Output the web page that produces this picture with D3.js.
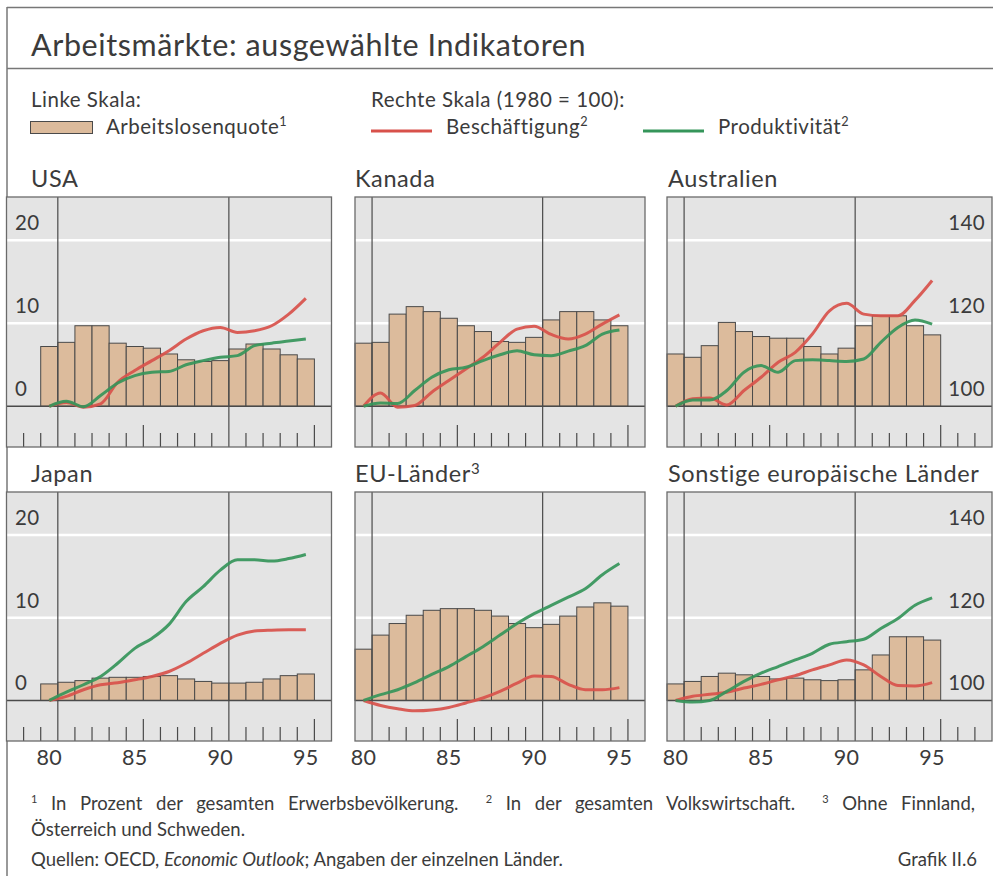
<!DOCTYPE html>
<html><head><meta charset="utf-8">
<script src="https://cdn.jsdelivr.net/npm/d3@7"></script>
<style>
body{margin:0;background:#fff}
svg{display:block}
text{font-family:Lato,"Open Sans",sans-serif;fill:#3b3b3b}
</style>
</head><body>
<svg id="c" width="993" height="876"></svg>
<script>
// ---------- data ----------
const years = d3.range(1980, 1996);
const leftTicks = [0, 10, 20];
const rightTicks = [100, 120, 140];
const xLabelYears = [1980, 1985, 1990, 1995];
const xLabelText = ["80", "85", "90", "95"];

const unempUSA = [7.2,7.7,9.7,9.7,7.6,7.2,7.0,6.3,5.6,5.4,5.5,6.9,7.5,6.9,6.2,5.7];
const empUSA   = [100,100.9,99.8,100.6,105.8,108.6,111.0,113.4,116.2,118.2,119.0,117.8,118.2,119.4,122.2,126.0];
const prodUSA  = [100,101.2,99.9,102.6,105.6,107.4,108.2,108.4,110.0,111.0,111.8,112.2,114.6,115.2,115.7,116.2];

const unempCAN = [7.6,7.7,11.1,12.0,11.4,10.6,9.7,9.0,7.8,7.7,8.3,10.4,11.4,11.4,10.4,9.7];
const empCAN   = [100,103.2,99.8,100.2,103.4,106.2,109.0,111.8,115.4,118.6,119.3,117.3,116.2,117.4,119.8,122.0];
const prodCAN  = [100,100.8,100.7,103.8,107.0,108.8,109.4,111.0,112.4,113.4,112.4,112.2,113.3,114.6,117.4,118.4];

const unempAUS = [6.3,5.9,7.3,10.1,9.0,8.4,8.2,8.2,7.2,6.3,7.0,9.7,10.9,10.9,9.7,8.6];
const empAUS   = [100,101.8,102.0,100.3,103.8,107.0,110.6,113.0,117.4,123.0,124.8,122.2,121.8,121.8,125.5,130.3];
const prodAUS  = [100,101.5,101.5,103.8,108.2,109.8,108.2,111.0,111.2,111.0,110.8,111.4,115.4,119.0,120.8,119.8];

const unempJPN = [2.0,2.2,2.4,2.7,2.8,2.8,2.9,3.0,2.6,2.3,2.1,2.1,2.2,2.6,3.0,3.2];
const empJPN   = [100,101.0,102.6,103.8,104.3,105.0,105.8,107.0,109.0,111.4,113.8,115.8,116.8,117.0,117.1,117.1];
const prodJPN  = [100,102.0,103.8,105.8,109.0,112.6,115.0,118.4,123.9,127.5,131.5,134.0,134.0,133.7,134.3,135.3];

const unempEU = [6.2,7.9,9.3,10.3,10.9,11.1,11.1,10.9,10.2,9.3,8.8,9.2,10.2,11.3,11.8,11.4];
const empEU   = [100,98.8,98.0,97.5,97.7,98.3,99.4,100.6,102.2,104.2,105.9,105.8,103.9,102.6,102.6,103.1];
const prodEU  = [100,101.4,102.6,104.3,106.3,108.2,110.6,113.0,115.8,118.6,121.0,123.0,125.0,127.0,130.4,133.1];

const unempOTH = [2.0,2.3,2.9,3.3,3.1,2.9,2.6,2.7,2.5,2.4,2.5,3.7,5.5,7.7,7.7,7.3];
const empOTH   = [100,101.0,101.5,102.0,103.0,103.9,105.0,106.0,107.4,108.6,109.8,108.6,105.8,103.6,103.5,104.3];
const prodOTH  = [100,99.6,100.0,102.2,104.6,106.6,108.2,109.8,111.4,113.6,114.2,114.8,117.4,119.8,123.0,124.8];

const panelTitles = [["USA"],["Kanada"],["Australien"],["Japan"],["EU-Länder","3"],["Sonstige europäische Länder"]];

// ---------- layout ----------
const svg = d3.select("#c");
const col = [
  {dom:[1977.5,1996.5], rng:[6.5,331.5]},
  {dom:[1979.5,1996.5], rng:[355,645]},
  {dom:[1979.5,1998.5], rng:[667,992]}
];
const row = [{top:197,bot:447,title:187},{top:492,bot:741,title:482}];

const panels = [
  {u:unempUSA,e:empUSA,p:prodUSA},
  {u:unempCAN,e:empCAN,p:prodCAN},
  {u:unempAUS,e:empAUS,p:prodAUS},
  {u:unempJPN,e:empJPN,p:prodJPN},
  {u:unempEU,e:empEU,p:prodEU},
  {u:unempOTH,e:empOTH,p:prodOTH}
];

const RED = "#d8514b", GREEN = "#35955a", BAR = "#dcbb9c", BG = "#e4e4e4", DARK = "#4a4a4a";

// frame
svg.append("line").attr("x1",7).attr("x2",993).attr("y1",7.5).attr("y2",7.5).attr("stroke","#777").attr("stroke-width",1.5);
svg.append("line").attr("x1",7).attr("x2",993).attr("y1",68.5).attr("y2",68.5).attr("stroke","#777").attr("stroke-width",1.5);
svg.append("line").attr("x1",7).attr("x2",7).attr("y1",7).attr("y2",876).attr("stroke","#777").attr("stroke-width",1.5);

// title
svg.append("text").attr("x",31).attr("y",56).attr("font-size",30.5).attr("letter-spacing",0.6).text("Arbeitsmärkte: ausgewählte Indikatoren");

// legend
const LS = 20.5;
svg.append("text").attr("x",31).attr("y",107).attr("font-size",LS).attr("letter-spacing",0.5).text("Linke Skala:");
svg.append("text").attr("x",371).attr("y",107).attr("font-size",LS).attr("letter-spacing",0.5).text("Rechte Skala (1980 = 100):");
svg.append("rect").attr("x",30.5).attr("y",121.5).attr("width",62).attr("height",12).attr("fill",BAR).attr("stroke",DARK).attr("stroke-width",1);
function supText(x,y,main,sup,size){
  const t = svg.append("text").attr("x",x).attr("y",y).attr("font-size",size).attr("letter-spacing",0.5);
  t.append("tspan").text(main);
  if(sup) t.append("tspan").attr("font-size",size*0.62).attr("dy",-size*0.38).text(sup);
  return t;
}
supText(106,134,"Arbeitslosenquote","1",LS);
svg.append("line").attr("x1",371).attr("x2",432).attr("y1",131).attr("y2",131).attr("stroke",RED).attr("stroke-width",3);
supText(446,134,"Beschäftigung","2",LS);
svg.append("line").attr("x1",643).attr("x2",704).attr("y1",131).attr("y2",131).attr("stroke",GREEN).attr("stroke-width",3);
supText(718,134,"Produktivität","2",LS);

// panels
panels.forEach((pd,i)=>{
  const c = col[i%3], r = row[Math.floor(i/3)];
  const x = d3.scaleLinear().domain(c.dom).range(c.rng);
  const yL = d3.scaleLinear().domain([-4.9,25.2]).range([r.bot,r.top]);
  const yR = d3.scaleLinear().domain([90.2,150.4]).range([r.bot,r.top]);
  const g = svg.append("g");
  const x0 = c.rng[0], x1 = c.rng[1];

  // title
  const tt = panelTitles[i];
  const tx = (i%3===0)?31:(i%3===1?355:668);
  const t = g.append("text").attr("x",tx).attr("y",r.title).attr("font-size",23.5).attr("letter-spacing",0.6);
  t.append("tspan").text(tt[0]);
  if(tt[1]) t.append("tspan").attr("font-size",15).attr("dy",-8).text(tt[1]);

  g.append("rect").attr("x",x0).attr("y",r.top).attr("width",x1-x0).attr("height",r.bot-r.top).attr("fill",BG);
  // white gridlines
  g.selectAll(".gl").data(leftTicks.slice(1)).join("line")
    .attr("x1",x0).attr("x2",x1).attr("y1",d=>yL(d)).attr("y2",d=>yL(d))
    .attr("stroke","#fff").attr("stroke-width",2.5);
  // bars
  g.selectAll(".bar").data(years).join("rect")
    .attr("x",d=>x(d-0.5)).attr("width",d=>x(d+0.5)-x(d-0.5))
    .attr("y",(d,k)=>yL(pd.u[k])).attr("height",(d,k)=>yL(0)-yL(pd.u[k]))
    .attr("fill",BAR).attr("stroke",DARK).attr("stroke-width",1);
  // baseline
  g.append("line").attr("x1",x0).attr("x2",x1).attr("y1",yL(0)).attr("y2",yL(0)).attr("stroke",DARK).attr("stroke-width",1.5);
  // vertical lines
  g.selectAll(".vl").data([1980.5,1990.5]).join("line")
    .attr("x1",d=>x(d)).attr("x2",d=>x(d)).attr("y1",r.top).attr("y2",r.bot)
    .attr("stroke",DARK).attr("stroke-width",1.2);
  // ticks
  const tks = d3.range(c.dom[0]+1, c.dom[1]-0.9, 1).filter(v=>v!==1980.5 && v!==1990.5);
  g.selectAll(".tk").data(tks).join("line")
    .attr("x1",d=>x(d)).attr("x2",d=>x(d))
    .attr("y1",d=>(d===1985.5||d===1995.5)?r.bot-22:r.bot-14).attr("y2",r.bot)
    .attr("stroke",DARK).attr("stroke-width",1.2);
  // lines
  const line = d3.line().x((d,k)=>x(years[k])).y(d=>yR(d)).curve(d3.curveMonotoneX);
  g.append("path").attr("d",line(pd.e)).attr("fill","none").attr("stroke",RED).attr("stroke-width",3).attr("stroke-linejoin","round").attr("opacity",0.92);
  g.append("path").attr("d",line(pd.p)).attr("fill","none").attr("stroke",GREEN).attr("stroke-width",3).attr("stroke-linejoin","round").attr("opacity",0.92);
  // border
  g.append("rect").attr("x",x0).attr("y",r.top).attr("width",x1-x0).attr("height",r.bot-r.top)
    .attr("fill","none").attr("stroke","#6a6a6a").attr("stroke-width",1.3);

  // y labels
  if(i%3===0){
    g.selectAll(".yl").data(leftTicks).join("text")
      .attr("x",15).attr("y",d=>yL(d)-10).attr("font-size",20.5).attr("letter-spacing",0.4).text(d=>d);
  }
  if(i%3===2){
    g.selectAll(".yr").data(rightTicks).join("text")
      .attr("x",985).attr("y",d=>yR(d)-10).attr("text-anchor","end").attr("font-size",20.5).attr("letter-spacing",0.4).text(d=>d);
  }
  // x labels
  if(i>=3){
    g.selectAll(".xl").data(xLabelYears).join("text")
      .attr("x",d=>x(d)).attr("y",765).attr("text-anchor","middle").attr("font-size",21.5).attr("letter-spacing",0.4)
      .text((d,k)=>xLabelText[k]);
  }
});

// footnotes
const FS = 18.5;
const f1 = svg.append("text").attr("x",31).attr("y",810).attr("font-size",FS);
const parts = [["1"," In Prozent der gesamten Erwerbsbevölkerung.\u00A0 "],["2"," In der gesamten Volkswirtschaft.\u00A0 "],["3"," Ohne Finnland,"]];
parts.forEach(p=>{
  f1.append("tspan").attr("font-size",11).attr("dy",-7).text(p[0]);
  f1.append("tspan").attr("dy",7).text(p[1]);
});
// justify the first footnote line by calibrating word spacing
const target = 944;
const natural = f1.node().getComputedTextLength();
f1.attr("word-spacing", 5);
const withWs = f1.node().getComputedTextLength();
const perUnit = (withWs - natural) / 5;
if (perUnit > 0) f1.attr("word-spacing", Math.max(0, (target - natural) / perUnit));
svg.append("text").attr("x",31).attr("y",836).attr("font-size",FS).text("Österreich und Schweden.");
const q = svg.append("text").attr("x",31).attr("y",866).attr("font-size",FS);
q.append("tspan").text("Quellen: OECD, ");
q.append("tspan").attr("font-style","italic").text("Economic Outlook");
q.append("tspan").text("; Angaben der einzelnen Länder.");
svg.append("text").attr("x",977).attr("y",866).attr("text-anchor","end").attr("font-size",FS).text("Grafik II.6");
</script>
</body></html>
